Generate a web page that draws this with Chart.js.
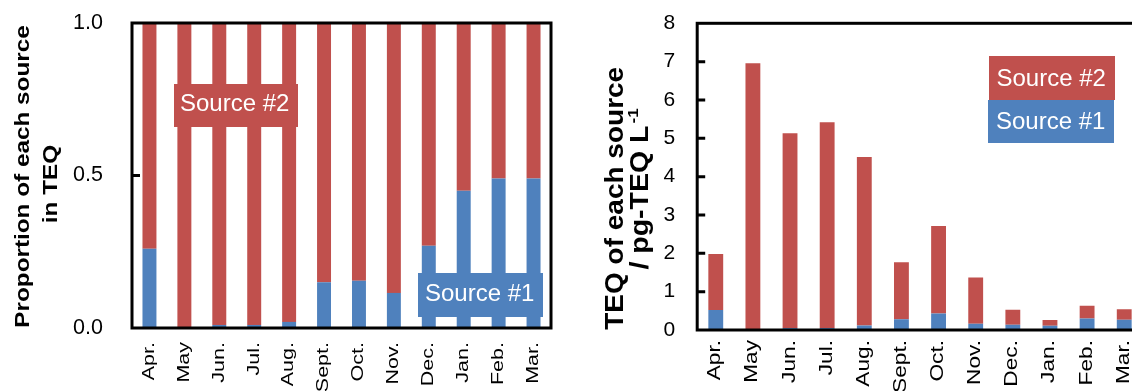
<!DOCTYPE html>
<html>
<head>
<meta charset="utf-8">
<script src="https://cdn.jsdelivr.net/npm/chart.js@4.4.1/dist/chart.umd.min.js"></script>
<style>
  html, body { margin: 0; padding: 0; background: #fff; overflow: hidden; width: 1132px; height: 391px; }
  #wrap { position: relative; width: 1132px; height: 391px; overflow: hidden; }
  canvas { position: absolute; top: 0; }
  #shareChart { left: 0; }
  #teqChart { left: 590px; }
</style>
</head>
<body>
<div id="wrap">
  <canvas id="shareChart" width="560" height="391"></canvas>
  <canvas id="teqChart" width="562" height="391"></canvas>
</div>
<script>
// Monthly sampling, April to March
const months = ['Apr.', 'May', 'Jun.', 'Jul.', 'Aug.', 'Sept.', 'Oct.', 'Nov.', 'Dec.', 'Jan.', 'Feb.', 'Mar.'];
const seriesNames = ['Source #1', 'Source #2'];

// Share of each source in total TEQ
const source1Share = [0.26, 0.00, 0.01, 0.01, 0.02, 0.15, 0.155, 0.115, 0.27, 0.45, 0.49, 0.49];
const source2Share = [0.74, 1.00, 0.99, 0.99, 0.98, 0.85, 0.845, 0.885, 0.73, 0.55, 0.51, 0.51];

// TEQ of each source, pg-TEQ/L
const source1Teq = [0.52, 0.00, 0.05, 0.05, 0.12, 0.28, 0.43, 0.16, 0.14, 0.11, 0.30, 0.27];
const source2Teq = [1.46, 6.96, 5.08, 5.37, 4.39, 1.49, 2.28, 1.21, 0.39, 0.15, 0.33, 0.27];

// Axis ticks
const shareTicks = [0, 0.5, 1.0];
const shareTickLabels = ['0.0', '0.5', '1.0'];
const teqTicks = [0, 1, 2, 3, 4, 5, 6, 7, 8];
const teqTickLabels = ['0', '1', '2', '3', '4', '5', '6', '7', '8'];

const RED = '#C0504D';
const BLUE = '#4F81BD';
const FONT = '"Liberation Sans", Arial, Helvetica, sans-serif';

function fontStr(run) {
  return (run.bold ? 'bold ' : '') + run.size + 'px ' + FONT;
}

// Text rotated a quarter turn counter-clockwise; baseX is the baseline's screen x.
function drawVertical(ctx, baseX, anchorY, runs, squeeze, align) {
  ctx.save();
  ctx.translate(baseX, anchorY);
  ctx.rotate(-Math.PI / 2);
  ctx.scale(1, squeeze);
  ctx.textAlign = 'left';
  ctx.textBaseline = 'alphabetic';
  ctx.fillStyle = '#000';
  let total = 0;
  const widths = runs.map(r => {
    ctx.font = fontStr(r);
    const w = ctx.measureText(r.text).width + (r.gap || 0);
    total += w;
    return w;
  });
  let x = align === 'center' ? -total / 2 : (align === 'end' ? -total : 0);
  runs.forEach((r, i) => {
    ctx.font = fontStr(r);
    ctx.fillText(r.text, x + (r.gap || 0), -(r.rise || 0));
    x += widths[i];
  });
  ctx.restore();
}

const decor = {
  id: 'decor',
  afterDatasetsDraw(chart, args, o) {
    const { ctx } = chart;
    // labelled colour boxes naming each series
    (o.boxes || []).forEach(b => {
      const ds = chart.data.datasets[b.dataset];
      ctx.save();
      ctx.fillStyle = ds.backgroundColor;
      ctx.fillRect(b.x, b.y, b.w, b.h);
      ctx.fillStyle = '#fff';
      ctx.font = o.boxFont + 'px ' + FONT;
      ctx.textAlign = 'left';
      ctx.textBaseline = 'alphabetic';
      ctx.fillText(ds.label, b.x + b.padX, b.y + b.baseY);
      ctx.restore();
    });
  },
  afterDraw(chart, args, o) {
    const { ctx, chartArea: a, scales } = chart;
    ctx.save();
    ctx.strokeStyle = '#000';
    ctx.lineWidth = 3;
    ctx.lineCap = 'square';
    ctx.strokeRect(a.left, a.top, a.right - a.left, a.bottom - a.top);
    // inward tick marks on the value axis
    ctx.lineCap = 'butt';
    ctx.beginPath();
    scales.y.ticks.forEach(t => {
      if (t.value <= scales.y.min || t.value >= scales.y.max) return;
      const y = scales.y.getPixelForValue(t.value);
      ctx.moveTo(a.left, y);
      ctx.lineTo(a.left + o.tickLen, y);
    });
    ctx.stroke();
    ctx.restore();

    // month labels, reading upward
    const xl = o.xLabels;
    chart.data.labels.forEach((lab, i) => {
      const cx = scales.x.getPixelForValue(i);
      drawVertical(ctx, cx + xl.baseOffset, xl.top, [{ text: lab, size: xl.size }], xl.squeeze, 'end');
    });

    // value-axis title lines
    (o.titles || []).forEach(t => {
      drawVertical(ctx, t.baseX, t.centerY, t.runs, t.squeeze, 'center');
    });
  }
};

function makeChart(id, cfg) {
  return new Chart(document.getElementById(id), {
    type: 'bar',
    data: {
      labels: months,
      datasets: [
        { label: seriesNames[0], data: cfg.s1, backgroundColor: BLUE, borderWidth: 0 },
        { label: seriesNames[1], data: cfg.s2, backgroundColor: RED, borderWidth: 0 }
      ]
    },
    options: {
      responsive: false,
      animation: false,
      events: [],
      datasets: { bar: { barPercentage: 0.4, categoryPercentage: 1.0 } },
      layout: { padding: cfg.padding },
      plugins: {
        legend: { display: false },
        tooltip: { enabled: false },
        decor: cfg.decor
      },
      scales: {
        x: {
          stacked: true,
          grid: { display: false, drawTicks: false },
          border: { display: false },
          ticks: { display: false },
          afterFit: s => { s.height = cfg.xHeight; s.paddingLeft = 0; s.paddingRight = 0; }
        },
        y: {
          stacked: true,
          min: cfg.ticks[0],
          max: cfg.ticks[cfg.ticks.length - 1],
          afterBuildTicks: s => { s.ticks = cfg.ticks.map(v => ({ value: v })); },
          grid: { display: false, drawTicks: false },
          border: { display: false },
          ticks: {
            color: '#000',
            font: { family: FONT, size: cfg.tickSize },
            padding: cfg.tickPad,
            autoSkip: false,
            callback: (v, i) => cfg.tickLabels[i]
          },
          afterFit: s => { s.width = cfg.yWidth; s.paddingTop = 0; s.paddingBottom = 0; }
        }
      }
    },
    plugins: [decor]
  });
}

// Share of each source in TEQ
makeChart('shareChart', {
  s1: source1Share,
  s2: source2Share,
  ticks: shareTicks,
  tickLabels: shareTickLabels,
  tickSize: 21.5,
  tickPad: 29,
  yWidth: 132,
  xHeight: 63,
  padding: { left: 0, right: 9, top: 23, bottom: 0 },
  decor: {
    tickLen: 8,
    boxFont: 24,
    boxes: [
      { dataset: 1, x: 174, y: 84, w: 124, h: 43, padX: 6, baseY: 26.8 },
      { dataset: 0, x: 418, y: 273, w: 125, h: 44, padX: 7, baseY: 27.8 }
    ],
    xLabels: { size: 21.5, squeeze: 0.8, top: 342, baseOffset: 4.3 },
    titles: [
      { baseX: 29, centerY: 176.5, squeeze: 0.8, runs: [{ text: 'Proportion of each source', size: 24.3, bold: true }] },
      { baseX: 56.5, centerY: 184, squeeze: 0.8, runs: [{ text: 'in TEQ', size: 24.3, bold: true }] }
    ]
  }
});

// TEQ of each source
makeChart('teqChart', {
  s1: source1Teq,
  s2: source2Teq,
  ticks: teqTicks,
  tickLabels: teqTickLabels,
  tickSize: 21,
  tickPad: 22,
  yWidth: 107.2,
  xHeight: 61,
  padding: { left: 0, right: 9.2, top: 23.3, bottom: 0 },
  decor: {
    tickLen: 8,
    boxFont: 24,
    boxes: [
      { dataset: 1, x: 399, y: 56, w: 126, h: 44, padX: 7.5, baseY: 30.4 },
      { dataset: 0, x: 398, y: 100, w: 126, h: 43, padX: 8, baseY: 29.4 }
    ],
    xLabels: { size: 22.7, squeeze: 0.8, top: 340, baseOffset: 4.5 },
    titles: [
      { baseX: 33.4, centerY: 198.3, squeeze: 0.9, runs: [{ text: 'TEQ of each source', size: 28, bold: true }] },
      { baseX: 57.6, centerY: 189, squeeze: 0.9, runs: [
        { text: '/ pg-TEQ L', size: 28.5, bold: true },
        { text: '-1', size: 17, bold: true, rise: 11, gap: 2 }
      ] }
    ]
  }
});
</script>
</body>
</html>
